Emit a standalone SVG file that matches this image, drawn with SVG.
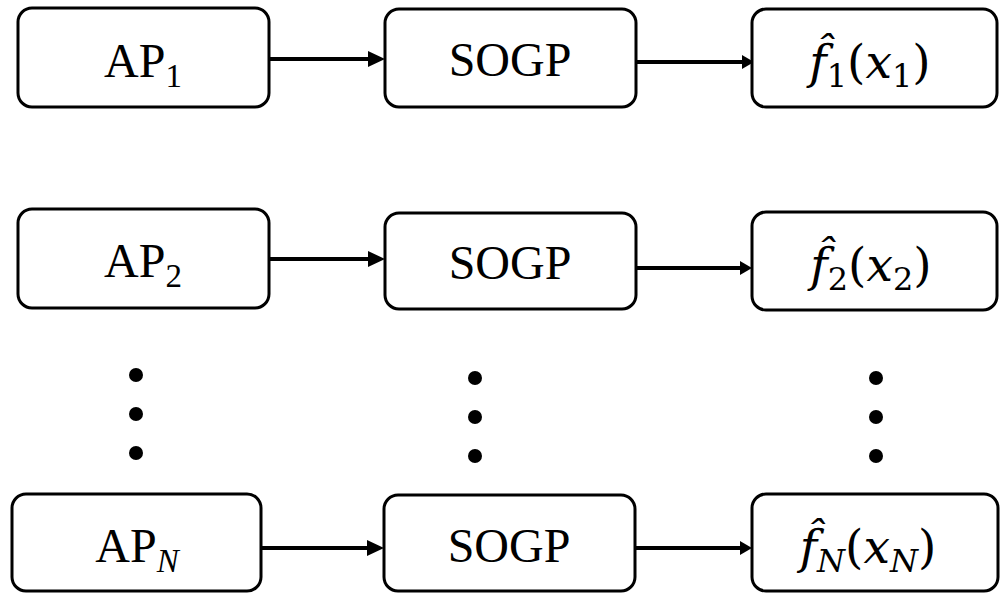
<svg xmlns="http://www.w3.org/2000/svg" width="1000" height="593" viewBox="0 0 1000 593">
  <defs>
    <style>
      .box { fill: #ffffff; stroke: #000000; stroke-width: 3; }
      .lbl { font-family: "Liberation Serif", "Times New Roman", serif; font-size: 48px; fill: #000; }
      .sub { font-size: 33px; }
      .math { font-family: "DejaVu Serif", "Liberation Serif", serif; font-size: 47px; fill: #000; }
      .it { font-style: italic; }
      .msub { font-size: 32px; }
      .wire { stroke: #000; stroke-width: 4; fill: none; }
      .dot { fill: #000; }
    </style>
    <!-- arrowheads: wide one for the first column, narrow one for the second -->
    <marker id="headL" markerUnits="userSpaceOnUse" viewBox="0 -8 17 16" markerWidth="17" markerHeight="16" refX="0" refY="0" orient="auto">
      <path d="M0,-8 L17,0 L0,8 z" fill="#000"/>
    </marker>
    <marker id="headS" markerUnits="userSpaceOnUse" viewBox="0 -7 12 14" markerWidth="12" markerHeight="14" refX="0" refY="0" orient="auto">
      <path d="M0,-7 L12,0 L0,7 z" fill="#000"/>
    </marker>
  </defs>

  <!-- connectors -->
  <g id="connectors">
    <line class="wire" x1="269" y1="59" x2="368" y2="59" marker-end="url(#headL)"/>
    <line class="wire" x1="636" y1="62" x2="742" y2="62" marker-end="url(#headS)"/>
    <line class="wire" x1="262" y1="259" x2="368" y2="259" marker-end="url(#headL)"/>
    <line class="wire" x1="636" y1="268" x2="740" y2="268" marker-end="url(#headS)"/>
    <line class="wire" x1="262" y1="548" x2="367" y2="548" marker-end="url(#headL)"/>
    <line class="wire" x1="626" y1="548" x2="740" y2="548" marker-end="url(#headS)"/>
  </g>

  <!-- row 1 -->
  <g id="ap1">
    <rect class="box" x="18" y="8" width="251" height="99" rx="14"/>
    <text class="lbl" x="143" y="77" text-anchor="middle">AP<tspan class="sub" dy="10">1</tspan></text>
  </g>
  <g id="sogp1">
    <rect class="box" x="385" y="9" width="251" height="98" rx="14"/>
    <text class="lbl" x="510" y="76" text-anchor="middle">SOGP</text>
  </g>
  <g id="f1">
    <rect class="box" x="752" y="9" width="245" height="98" rx="14"/>
    <text class="math" x="870" y="78" text-anchor="middle"><tspan class="it">f̂</tspan><tspan class="msub" dy="9">1</tspan><tspan dy="-9">(</tspan><tspan class="it">x</tspan><tspan class="msub" dy="9">1</tspan><tspan dy="-9">)</tspan></text>
  </g>

  <!-- row 2 -->
  <g id="ap2">
    <rect class="box" x="18" y="209" width="251" height="99" rx="14"/>
    <text class="lbl" x="143" y="277" text-anchor="middle">AP<tspan class="sub" dy="10">2</tspan></text>
  </g>
  <g id="sogp2">
    <rect class="box" x="385" y="213" width="251" height="96" rx="14"/>
    <text class="lbl" x="510" y="279" text-anchor="middle">SOGP</text>
  </g>
  <g id="f2">
    <rect class="box" x="752" y="212" width="245" height="98" rx="14"/>
    <text class="math" x="871" y="281" text-anchor="middle"><tspan class="it">f̂</tspan><tspan class="msub" dy="9">2</tspan><tspan dy="-9">(</tspan><tspan class="it">x</tspan><tspan class="msub" dy="9">2</tspan><tspan dy="-9">)</tspan></text>
  </g>

  <!-- ellipsis dots -->
  <g id="dots">
    <circle class="dot" cx="136" cy="375" r="7"/>
    <circle class="dot" cx="136" cy="414" r="7"/>
    <circle class="dot" cx="136" cy="453" r="7"/>
    <circle class="dot" cx="475" cy="378" r="7"/>
    <circle class="dot" cx="475" cy="417" r="7"/>
    <circle class="dot" cx="475" cy="456" r="7"/>
    <circle class="dot" cx="876" cy="378" r="7"/>
    <circle class="dot" cx="876" cy="417" r="7"/>
    <circle class="dot" cx="876" cy="456" r="7"/>
  </g>

  <!-- row N -->
  <g id="apN">
    <rect class="box" x="12" y="494" width="249" height="97" rx="14"/>
    <text class="lbl" x="137" y="562" text-anchor="middle">AP<tspan class="sub it" dy="10">N</tspan></text>
  </g>
  <g id="sogpN">
    <rect class="box" x="384" y="495" width="251" height="96" rx="14"/>
    <text class="lbl" x="509" y="562" text-anchor="middle">SOGP</text>
  </g>
  <g id="fN">
    <rect class="box" x="752" y="494" width="246" height="97" rx="14"/>
    <text class="math" x="868" y="563" text-anchor="middle"><tspan class="it">f̂</tspan><tspan class="msub it" dy="9">N</tspan><tspan dy="-9">(</tspan><tspan class="it">x</tspan><tspan class="msub it" dy="9">N</tspan><tspan dy="-9">)</tspan></text>
  </g>
</svg>
